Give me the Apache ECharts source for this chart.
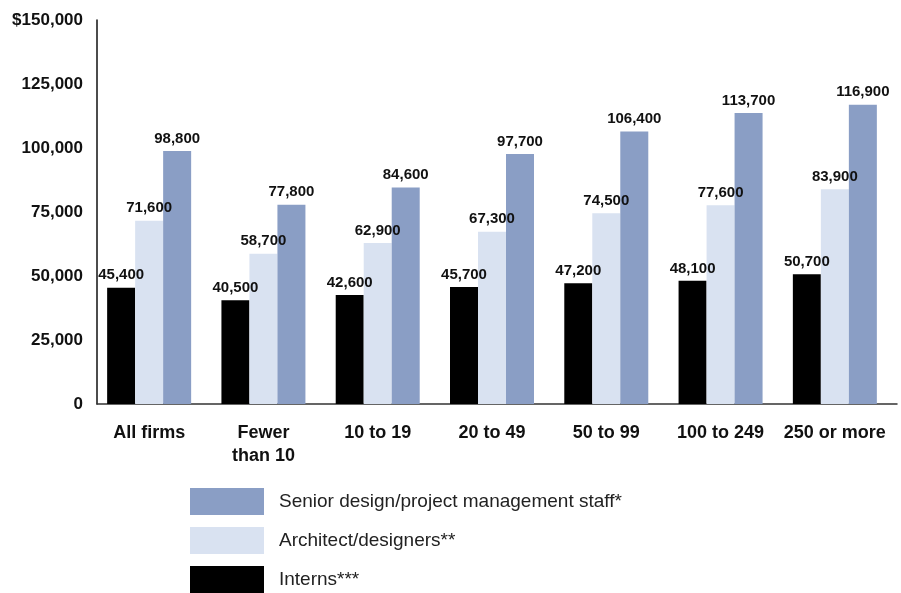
<!DOCTYPE html>
<html>
<head>
<meta charset="utf-8">
<script src="https://cdn.jsdelivr.net/npm/echarts@6/dist/echarts.min.js"></script>
<style>
  html, body { margin: 0; padding: 0; background: #fff; }
  #chart { width: 901px; height: 593px; }
</style>
</head>
<body>
<div id="chart"></div>
<script>
// Median compensation by firm size
const categories = ['All firms', 'Fewer\nthan 10', '10 to 19', '20 to 49', '50 to 99', '100 to 249', '250 or more'];
const interns    = [45400, 40500, 42600, 45700, 47200, 48100, 50700];
const architects = [71600, 58700, 62900, 67300, 74500, 77600, 83900];
const senior     = [98800, 77800, 84600, 97700, 106400, 113700, 116900];
const yTickLabels = ['0', '25,000', '50,000', '75,000', '100,000', '125,000', '$150,000'];

const seriesNames = {
  senior: 'Senior design/project management staff*',
  arch: 'Architect/designers**',
  interns: 'Interns***'
};

const FONT = '"Liberation Sans Narrow", "Arial Narrow", "Liberation Sans", sans-serif';
const fmt = v => v.toLocaleString('en-US');

const valueLabel = {
  show: true,
  position: 'top',
  distance: 5,
  fontFamily: FONT,
  fontWeight: 'bold',
  fontSize: 15,
  color: '#111',
  formatter: p => fmt(p.value)
};

function barSeries(name, data, color) {
  return {
    name, type: 'bar', data,
    xAxisIndex: 0, yAxisIndex: 0,
    barWidth: 28, barGap: '0%',
    itemStyle: { color },
    label: valueLabel,
    emphasis: { disabled: true }
  };
}

const chart = echarts.init(document.getElementById('chart'));
chart.setOption({
  animation: false,
  textStyle: { fontFamily: FONT },
  // grid 0 places the bars and category labels, grid 1 carries the drawn axes
  grid: [
    { left: 92, right: 9, top: 20, bottom: 189 },
    { left: 97, right: 4, top: 20, bottom: 189 }
  ],
  xAxis: [
    {
      type: 'category', gridIndex: 0, data: categories,
      axisLine: { show: false }, axisTick: { show: false },
      axisLabel: {
        margin: 18, fontFamily: FONT, fontWeight: 'bold', fontSize: 18,
        color: '#111', lineHeight: 23, interval: 0, verticalAlign: 'top'
      }
    },
    {
      type: 'category', gridIndex: 1, data: categories,
      axisLine: { show: true, lineStyle: { color: '#333', width: 1.5 } },
      axisTick: { show: false }, axisLabel: { show: false }
    }
  ],
  yAxis: [
    { type: 'value', gridIndex: 0, min: 0, max: 150000, interval: 25000, show: false },
    {
      type: 'value', gridIndex: 1, min: 0, max: 150000, interval: 25000,
      axisLine: { show: true, lineStyle: { color: '#111', width: 1.5 } },
      axisTick: { show: false },
      splitLine: { show: false },
      axisLabel: {
        margin: 14, fontFamily: FONT, fontWeight: 'bold', fontSize: 17, color: '#111',
        formatter: (v) => yTickLabels[Math.round(v / 25000)]
      }
    }
  ],
  legend: {
    orient: 'vertical',
    left: 190, top: 488, height: 140,
    padding: 0,
    itemWidth: 74, itemHeight: 27, itemGap: 12,
    icon: 'rect',
    data: [seriesNames.senior, seriesNames.arch, seriesNames.interns],
    textStyle: { fontFamily: FONT, fontSize: 19, color: '#222', padding: [0, 0, 0, 10] }
  },
  series: [
    barSeries(seriesNames.interns, interns, '#000000'),
    barSeries(seriesNames.arch, architects, '#D9E2F1'),
    barSeries(seriesNames.senior, senior, '#8A9EC5')
  ]
});
</script>
</body>
</html>
